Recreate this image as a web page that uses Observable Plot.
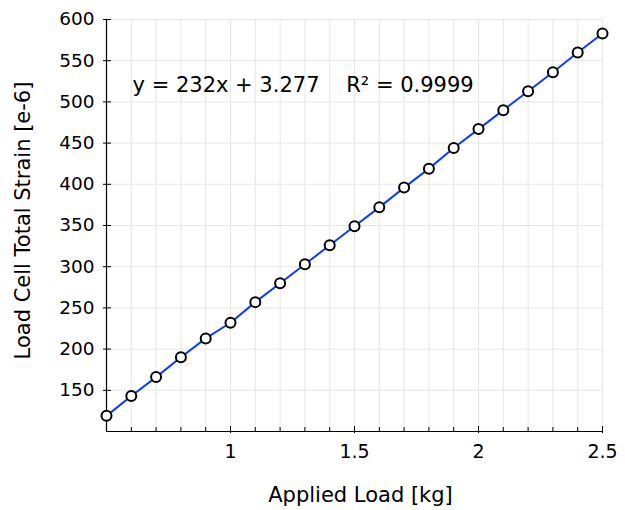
<!DOCTYPE html>
<html>
<head>
<meta charset="utf-8">
<script src="https://cdn.jsdelivr.net/npm/d3@7"></script>
<script src="https://cdn.jsdelivr.net/npm/@observablehq/plot@0.6"></script>
<style>
  html, body { margin: 0; padding: 0; background: #fff; }
  svg { display: block; }
</style>
</head>
<body>
<div id="chart"></div>
<script>
const appliedLoad = [0.5, 0.6, 0.7, 0.8, 0.9, 1.0, 1.1, 1.2, 1.3, 1.4, 1.5, 1.6, 1.7, 1.8, 1.9, 2.0, 2.1, 2.2, 2.3, 2.4, 2.5];
const strain = [119, 143, 166, 190, 213, 232, 257, 280, 303, 326, 349, 372, 396, 419, 444, 467, 490, 513, 536, 560, 583];
const xTickLabels = [1, 1.5, 2, 2.5];
const xMinorTicks = [0.5, 0.6, 0.7, 0.8, 0.9, 1.0, 1.1, 1.2, 1.3, 1.4, 1.5, 1.6, 1.7, 1.8, 1.9, 2.0, 2.1, 2.2, 2.3, 2.4, 2.5];
const yTicks = [150, 200, 250, 300, 350, 400, 450, 500, 550, 600];
const yGrid = [100, 150, 200, 250, 300, 350, 400, 450, 500, 550, 600];
const xLabel = "Applied Load [kg]";
const yLabel = "Load Cell Total Strain [e-6]";
const fitText = [{x: 0.605, y: 520, t: "y = 232x + 3.277    R\u00B2 = 0.9999"}];

const data = appliedLoad.map((x, i) => ({x, y: strain[i]}));

const chart = Plot.plot({
  width: 625,
  height: 510,
  marginLeft: 106,
  marginRight: 23,
  marginTop: 19,
  marginBottom: 79,
  style: {fontFamily: "DejaVu Sans", fontSize: "16px", color: "#000", background: "#fff"},
  x: {domain: [0.5, 2.5]},
  y: {domain: [100, 600]},
  marks: [
    Plot.gridX(xMinorTicks, {stroke: "#e6e6e6", strokeOpacity: 1, strokeWidth: 1}),
    Plot.gridY(yGrid, {stroke: "#e6e6e6", strokeOpacity: 1, strokeWidth: 1}),
    Plot.axisX(xMinorTicks, {tickSize: -4, tickFormat: () => "", stroke: "#000", strokeOpacity: 1, label: null}),
    Plot.axisX(xTickLabels, {tickSize: 2, tickPadding: 11, stroke: "#000", strokeOpacity: 1, fontSize: 19, label: null, tickFormat: d => String(d)}),
    Plot.axisX(xTickLabels, {tickSize: -5, tickFormat: () => "", stroke: "#000", strokeOpacity: 1, label: null}),
    Plot.axisY(yTicks, {tickSize: 3, tickPadding: 9, stroke: "#000", strokeOpacity: 1, fontSize: 18.5, label: null}),
    Plot.axisY(yTicks, {tickSize: -5, tickFormat: () => "", stroke: "#000", strokeOpacity: 1, label: null}),
    Plot.ruleX([0.5], {stroke: "#000", strokeWidth: 1.2}),
    Plot.ruleY([100], {stroke: "#000", strokeWidth: 1.2}),
    Plot.line(data, {x: "x", y: "y", stroke: "#0a3cff", strokeWidth: 2}),
    Plot.dot(data, {x: "x", y: "y", r: 5, fill: "#fff", stroke: "#000", strokeWidth: 2}),
    Plot.text(fitText, {x: "x", y: "y", text: "t", textAnchor: "start", fontSize: 21, fill: "#000"}),
    Plot.text([xLabel], {frameAnchor: "bottom", dy: 70, dx: 6, fontSize: 21, fill: "#000"}),
    Plot.text([yLabel], {frameAnchor: "left", dx: -83, dy: -5, rotate: -90, textAnchor: "middle", fontSize: 21, fill: "#000"})
  ]
});
document.getElementById("chart").appendChild(chart);
</script>
</body>
</html>
